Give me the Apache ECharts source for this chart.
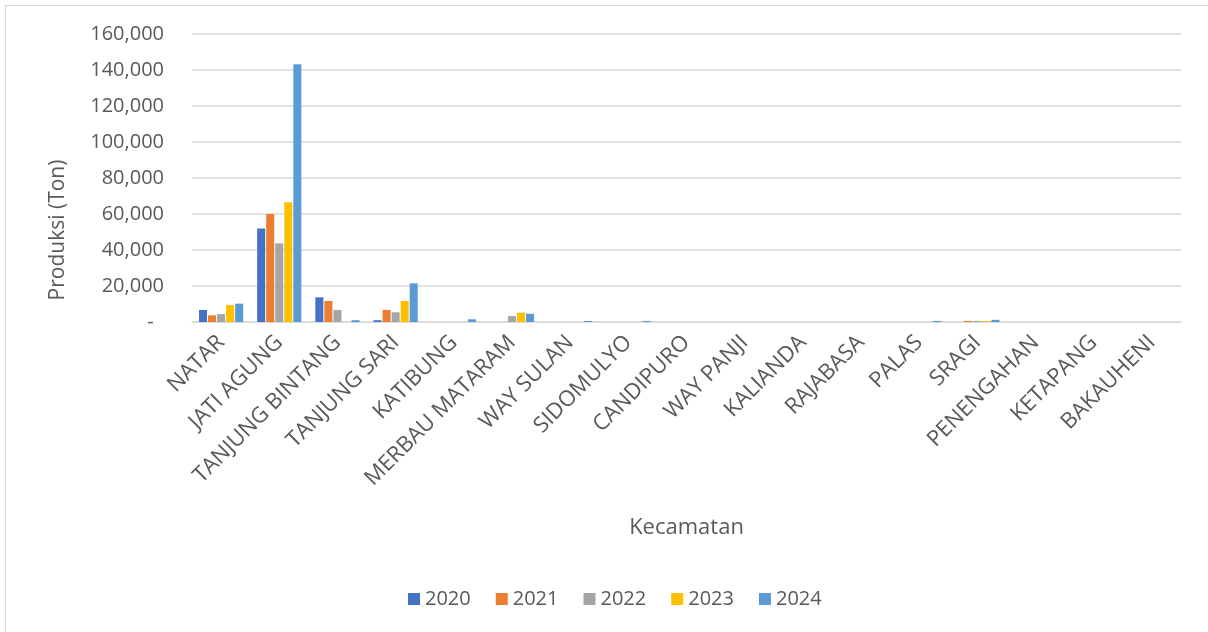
<!DOCTYPE html>
<html><head><meta charset="utf-8">
<script src="https://cdn.jsdelivr.net/npm/echarts@6/dist/echarts.min.js"></script>
<style>html,body{margin:0;padding:0;background:#fff}#c{width:1208px;height:632px}</style>
</head><body><div id="c"></div>
<script>
const categories = ['NATAR','JATI AGUNG','TANJUNG BINTANG','TANJUNG SARI','KATIBUNG','MERBAU MATARAM','WAY SULAN','SIDOMULYO','CANDIPURO','WAY PANJI','KALIANDA','RAJABASA','PALAS','SRAGI','PENENGAHAN','KETAPANG','BAKAUHENI'];
const years = ['2020','2021','2022','2023','2024'];
const v2020 = [6700, 52000, 13700, 1000, 0, 0, 0, 0, 0, 0, 0, 0, 0, 0, 0, 0, 0];
const v2021 = [3700, 60000, 11700, 6700, 0, 0, 0, 0, 0, 0, 0, 0, 0, 600, 0, 0, 0];
const v2022 = [4400, 43700, 6700, 5400, 0, 3300, 0, 0, 0, 0, 0, 0, 0, 600, 0, 0, 0];
const v2023 = [9400, 66500, 0, 11700, 0, 5200, 0, 0, 0, 0, 0, 0, 0, 600, 0, 0, 0];
const v2024 = [10200, 143200, 1000, 21500, 1500, 4600, 600, 600, 0, 0, 0, 0, 600, 1200, 0, 0, 0];
const yTicks = [0, 20000, 40000, 60000, 80000, 100000, 120000, 140000, 160000];
const colors = ['#4472C4','#ED7D31','#A5A5A5','#FFC000','#5B9BD5'];
const seriesValues = [v2020, v2021, v2022, v2023, v2024];

const FONT = '"Open Sans", sans-serif';
const chart = echarts.init(document.getElementById('c'));
chart.setOption({
  animation: false,
  backgroundColor: '#fff',
  textStyle: {fontFamily: FONT, color: '#595959'},
  graphic: [
    {type: 'rect', shape: {x: 5.5, y: 5.5, width: 1300, height: 1300}, style: {fill: 'none', stroke: '#D9D9D9', lineWidth: 1}, silent: true},
    {type: 'text', x: 58, y: 230, rotation: Math.PI / 2, silent: true,
     style: {text: 'Produksi (Ton)', fontSize: 21, fontFamily: FONT, fill: '#595959', align: 'center', verticalAlign: 'middle'}}
  ],
  grid: {left: 192, right: 27, top: 34, bottom: 310},
  legend: {
    data: years, top: 584, left: 403, itemWidth: 12, itemHeight: 12, itemGap: 25, itemStyle: {borderWidth: 0},
    icon: 'rect', textStyle: {fontSize: 20, color: '#595959', fontFamily: FONT}
  },
  xAxis: {
    type: 'category', data: categories,
    name: 'Kecamatan', nameLocation: 'middle', nameGap: 195,
    nameTextStyle: {fontSize: 22, color: '#595959'},
    axisLine: {lineStyle: {color: '#D9D9D9', width: 1.5}},
    axisTick: {show: false},
    axisLabel: {rotate: 45, fontSize: 22, color: '#595959', margin: 17, interval: 0}
  },
  yAxis: {
    type: 'value', min: 0, max: 160000, interval: 20000,
    axisLine: {show: false}, axisTick: {show: false},
    splitLine: {lineStyle: {color: '#D9D9D9', width: 1.5}},
    axisLabel: {fontSize: 20, color: '#595959', margin: 28,
      formatter: v => v === 0 ? '-  ' : v.toLocaleString('en-US')}
  },
  series: years.map((y, i) => ({
    name: y, type: 'bar', data: seriesValues[i],
    itemStyle: {color: colors[i]},
    barCategoryGap: '24%', barGap: '12.5%'
  }))
});
</script></body></html>
